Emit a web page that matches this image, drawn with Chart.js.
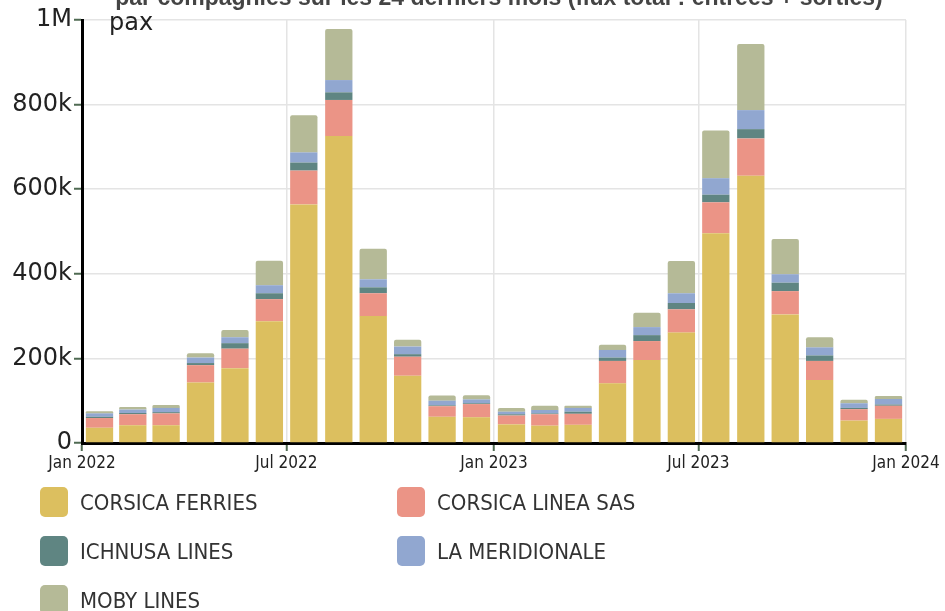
<!DOCTYPE html>
<html>
<head>
<meta charset="utf-8">
<script src="https://cdn.jsdelivr.net/npm/chart.js@4.4.1/dist/chart.umd.min.js"></script>
<style>
  html, body { margin: 0; padding: 0; background: #fff; overflow: hidden; }
  #wrap { position: relative; width: 945px; height: 611px; overflow: hidden; }
  #c { position: absolute; left: 0; top: 0; }
  #title { position: absolute; left: 0; width: 998px; top: -14px; text-align: center;
           font: bold 23px "Liberation Sans", Arial, sans-serif; line-height: 23px; color: #444; white-space: nowrap; }
  #unit { position: absolute; left: 109px; top: 10px; font: 24px "DejaVu Sans", sans-serif; line-height: 24px; color: #222; }
  #legend { position: absolute; left: 40px; top: 487px; width: 720px;
            display: grid; grid-template-columns: 357px 357px; row-gap: 19px; }
  .item { display: flex; align-items: center; height: 30px; }
  .box { width: 28px; height: 30px; border-radius: 5px; margin-right: 12px; flex: none; }
  .lab { font: 22px "DejaVu Sans Condensed", "DejaVu Sans", sans-serif; color: #333; white-space: nowrap; }
</style>
</head>
<body>
<div id="wrap">
  <canvas id="c" width="945" height="611"></canvas>
  <div id="title">par compagnies sur les 24 derniers mois (flux total : entrées + sorties)</div>
  <div id="unit">pax</div>
  <div id="legend"></div>
</div>
<script>
// ---- data ----
const MONTHS = ['2022-01','2022-02','2022-03','2022-04','2022-05','2022-06','2022-07','2022-08','2022-09','2022-10','2022-11','2022-12',
                '2023-01','2023-02','2023-03','2023-04','2023-05','2023-06','2023-07','2023-08','2023-09','2023-10','2023-11','2023-12'];
const SERIES_NAMES = ['CORSICA FERRIES','CORSICA LINEA SAS','ICHNUSA LINES','LA MERIDIONALE','MOBY LINES'];
const CORSICA_FERRIES  = [36000,42000,42000,143000,177000,288000,564000,726000,300000,159000,62000,61000,
                          44000,41000,43000,141000,196000,261000,496000,632000,304000,149000,53000,57000];
const CORSICA_LINEA    = [23000,26000,28000,41000,46000,52000,80000,85000,54000,45000,25000,31000,
                          21000,27000,26000,53000,45000,55000,73000,88000,55000,45000,27000,31000];
const ICHNUSA_LINES    = [3000,3000,3000,5000,13000,14000,19000,18000,14000,6000,2000,2000,
                          3000,2000,5000,8000,14000,15000,18000,22000,20000,13000,3000,3000];
const LA_MERIDIONALE   = [8000,8000,10000,13000,14000,19000,24000,29000,19000,18000,11000,9000,
                          6000,8000,9000,18000,19000,23000,39000,45000,20000,19000,11000,13000];
const MOBY_LINES       = [5000,6000,7000,10000,17000,58000,88000,121000,72000,16000,12000,10000,
                          9000,10000,5000,12000,34000,76000,113000,156000,83000,24000,8000,7000];
const X_TICK_DATES  = ['2022-01','2022-07','2023-01','2023-07','2024-01'];
const X_TICK_LABELS = ['Jan 2022','Jul 2022','Jan 2023','Jul 2023','Jan 2024'];
const Y_TICKS       = [0,200000,400000,600000,800000,1000000];
const Y_TICK_LABELS = ['0','200k','400k','600k','800k','1M'];
const COLORS = ['#dcbf5f','#eb9486','#5f8582','#91a7d0','#b5ba97'];

// ---- helpers ----
const DAY = 86400000;
const T0 = Date.UTC(2022, 0, 1);
function dayOf(ym) { const [y, m] = ym.split('-').map(Number); return (Date.UTC(y, m - 1, 1) - T0) / DAY; }
function midMonth(ym) { const [y, m] = ym.split('-').map(Number);
  return ((Date.UTC(y, m - 1, 1) + Date.UTC(y, m, 1)) / 2 - T0) / DAY; }

const VALUES = [CORSICA_FERRIES, CORSICA_LINEA, ICHNUSA_LINES, LA_MERIDIONALE, MOBY_LINES];
const datasets = SERIES_NAMES.map((name, k) => ({
  label: name,
  data: MONTHS.map((m, i) => ({ x: midMonth(m), y: VALUES[k][i] })),
  backgroundColor: COLORS[k],
  borderWidth: 0,
  barPercentage: 0.82,
  categoryPercentage: 1.0,
  borderRadius: k === SERIES_NAMES.length - 1 ? { topLeft: 2, topRight: 2 } : 0,
  borderSkipped: false
}));

const GRID = '#e4e4e4';
const TICKC = '#4f6a52';

new Chart(document.getElementById('c'), {
  type: 'bar',
  data: { datasets },
  options: {
    responsive: false,
    devicePixelRatio: 1,
    animation: false,
    layout: { padding: { left: 0, top: 20, right: 39, bottom: 0 } },
    plugins: { legend: { display: false }, title: { display: false }, tooltip: { enabled: false } },
    scales: {
      x: {
        type: 'linear', stacked: true, offset: false,
        min: dayOf(X_TICK_DATES[0]), max: dayOf(X_TICK_DATES[X_TICK_DATES.length - 1]),
        afterBuildTicks: s => { s.ticks = X_TICK_DATES.map(d => ({ value: dayOf(d) })); },
        afterFit: s => { s.height = 168; },
        grid: { offset: false, color: GRID, lineWidth: 1.5, tickColor: TICKC, tickLength: 8, tickWidth: 2 },
        border: { display: true, color: '#000', width: 3 },
        ticks: { autoSkip: false, maxRotation: 0, padding: 2, color: '#222',
                 font: { family: 'DejaVu Sans Condensed, DejaVu Sans', size: 17 },
                 callback: (v, i) => X_TICK_LABELS[i] }
      },
      y: {
        stacked: true, min: 0, max: Y_TICKS[Y_TICKS.length - 1],
        afterBuildTicks: s => { s.ticks = Y_TICKS.map(v => ({ value: v })); },
        afterFit: s => { s.width = 82; },
        grid: { color: GRID, lineWidth: 1.5, tickColor: TICKC, tickLength: 8, tickWidth: 2 },
        border: { display: true, color: '#000', width: 3 },
        ticks: { padding: 2, color: '#222', font: { family: 'DejaVu Sans', size: 24 },
                 callback: (v, i) => Y_TICK_LABELS[i] }
      }
    }
  }
});

// HTML legend built from the datasets
const lg = document.getElementById('legend');
SERIES_NAMES.forEach((n, k) => {
  const it = document.createElement('div'); it.className = 'item';
  const b = document.createElement('div'); b.className = 'box'; b.style.background = COLORS[k];
  const t = document.createElement('span'); t.className = 'lab'; t.textContent = n;
  it.appendChild(b); it.appendChild(t); lg.appendChild(it);
});
</script>
</body>
</html>
